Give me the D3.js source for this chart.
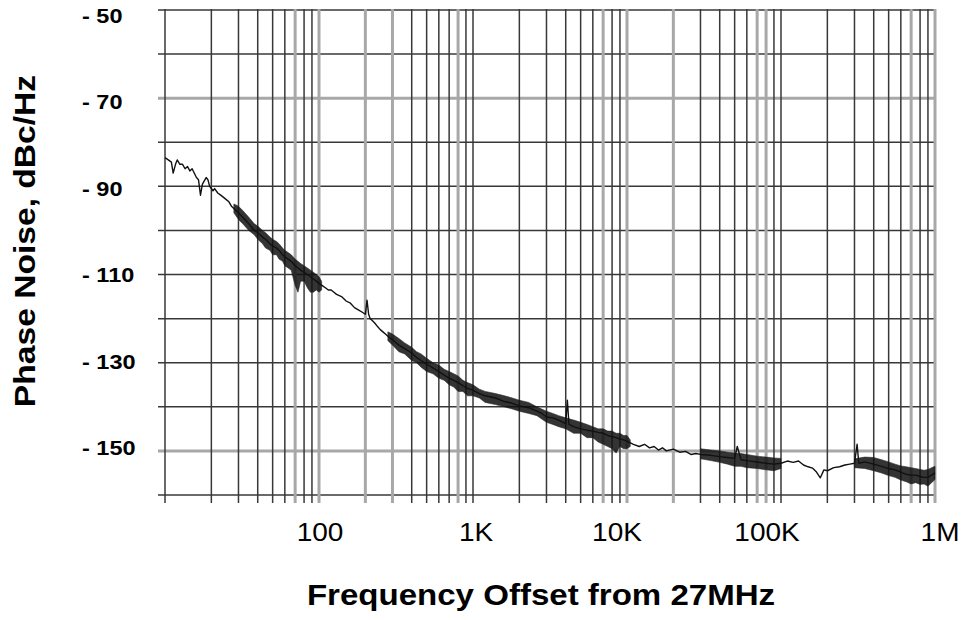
<!DOCTYPE html>
<html><head><meta charset="utf-8">
<script src="https://cdn.jsdelivr.net/npm/d3@7"></script>
<style>body{margin:0;background:#fff}svg{display:block}</style>
</head><body><svg id="c" width="962" height="620"></svg>
<script>
// ---------- data ----------
const xTickValues = [100, 1000, 10000, 100000, 1000000];
const xTickLabels = ["100", "1K", "10K", "100K", "1M"];
const yTickValues = [-50, -70, -90, -110, -130, -150];
const yTickLabels = ["- 50", "- 70", "- 90", "- 110", "- 130", "- 150"];
const yGridValues = [-50, -60, -70, -80, -90, -100, -110, -120, -130, -140, -150, -160];
const xTitle = "Frequency Offset from 27MHz";
const yTitle = "Phase Noise, dBc/Hz";

// measured trace (offset frequency in Hz, phase noise in dBc/Hz)
const traceFreq = [10,10.5,11,11.3,11.7,12,12.5,13,13.5,14,14.5,15,16,16.5,17,17.5,18.5,19,19.5,20.5,21,22,23,24,25,26,27,
  28,30,32,35,38,40,43,45,48,50,53,55,58,60,63,66,70,73,76,80,84,88,92,96,100,
  105,110,115,120,125,130,140,150,160,170,180,190,200,205,210,215,220,230,240,250,260,270,
  280,300,330,360,400,430,460,500,550,600,650,700,750,800,860,920,1000,1100,1200,1400,1600,1800,2000,2300,2600,2800,3000,
  3300,3600,4000,4100,4200,4500,5000,5500,6000,6500,7000,7500,8000,8500,9000,9500,10000,
  11000,12000,13000,14000,15000,16000,17000,18000,20000,22000,24000,26000,28000,
  30000,35000,40000,45000,50000,52000,55000,60000,70000,80000,90000,100000,
  110000,120000,130000,140000,150000,160000,170000,180000,190000,200000,220000,240000,260000,280000,
  300000,312000,320000,350000,400000,450000,500000,550000,600000,650000,700000,750000,800000,850000,900000,950000,1000000];
const traceDb = [-83.5,-84,-84.5,-87,-85,-84,-85,-85,-86,-85.5,-86.5,-86,-88,-88.5,-92,-89.5,-88,-88.5,-90,-91,-90.5,-91.5,-92,-92.5,-93,-93.5,-94.5,
  -95,-96,-97,-98.5,-100,-100.5,-101.5,-102,-103,-103.5,-104,-104.5,-105.5,-106,-106.5,-107,-108,-108.5,-109,-109.5,-110,-110.5,-111,-111.5,-112,
  -112.5,-113,-113.5,-113.5,-114,-114.5,-115,-116,-116.5,-117.5,-118,-118.5,-119,-115.8,-119,-120,-120.3,-121,-121.8,-122.5,-123,-123.5,
  -124,-124.8,-126,-126.8,-127.8,-128.8,-129.5,-130.3,-131.2,-132,-132.8,-133.5,-134,-134.5,-135.2,-135.8,-136.2,-137,-137.5,-138,-138.8,-139.2,-139.8,-140.2,-141,-141.5,-142.3,
  -142.5,-143,-143.8,-138.5,-144,-144.5,-145,-145.3,-145.5,-145.8,-146,-146.5,-146.8,-147,-147.3,-147.5,-147.8,
  -148.5,-149,-148.5,-149.3,-149,-149.8,-149.3,-150,-149.6,-150.3,-150.1,-150.8,-150.6,
  -150.8,-151,-151.3,-151.5,-151.7,-149,-152,-152.2,-152.5,-152.8,-153,-152.8,
  -152.3,-152.6,-152.3,-153.2,-153.6,-153.9,-154.8,-156.1,-154.3,-154.5,-153.8,-153.6,-153.2,-153,
  -152.8,-148.5,-152.8,-152.5,-153,-153.5,-154,-154.3,-154.8,-155.3,-155.5,-155.5,-155.8,-156,-156,-155.5,-155];

// dense-noise envelope of the trace (null = gap between segments)
const bandFreq = [28,30,32,35,38,40,43,45,48,50,53,55,58,60,63,66,70,73,76,80,84,88,92,96,100,104, null,
  280,300,330,360,400,430,460,500,550,600,650,700,750,800,860,920,1000,1100,1200,1400,1600,1800,2000,2300,2600,
  3000,3300,3600,4000,4500,5000,5500,6000,6500,7000,7500,8000,8500,9000,9500,10000,10500, null,
  30000,35000,40000,45000,50000,55000,60000,70000,80000,90000,100000, null,
  300000,350000,400000,450000,500000,550000,600000,650000,700000,750000,800000,850000,900000,950000,1000000];
const bandUpper = [-94,-94.5,-95.5,-97,-98.5,-99,-100,-100.5,-101.5,-102,-102.5,-103,-104,-104.5,-105,-105.5,-106.5,-107,-107.5,-108,-108.5,-109,-109.5,-110,-110.5,-111.5, null,
  -123,-123.5,-124.5,-125.5,-126.5,-127.5,-128,-129,-130,-130.5,-131.5,-132,-132.5,-133,-134,-134.5,-135,-136,-136.5,-137,-137.5,-138,-138.5,-139,-140,
  -141,-141.5,-142,-142.5,-143,-143.5,-144,-144.5,-145,-145,-145.5,-145.5,-146,-146,-146.5,-146.5,-147.5, null,
  -149.5,-149.8,-150,-150.3,-150.5,-150.6,-150.8,-151.2,-151.4,-151.6,-151.7, null,
  -151.8,-151.4,-151.5,-152,-152.5,-153,-153.4,-153.6,-153.8,-154,-154.2,-154.4,-154.2,-153.8,-153.5];
const bandLower = [-96,-97.5,-98.5,-100,-101,-102,-103,-104,-104.5,-105.5,-105.5,-106.5,-107,-108,-108.5,-109,-112.5,-114,-111.5,-111.5,-113,-114,-114,-113.5,-114,-113.5, null,
  -125,-126,-127.5,-128,-129.5,-130,-131,-132,-132.5,-133.5,-134,-135,-135.5,-136.5,-136.5,-137.5,-137.5,-138,-139,-139.5,-140,-140.5,-141,-141.5,-142,
  -143.5,-144,-144.5,-145,-146,-146,-147,-147,-148,-148.5,-149,-149.5,-150.5,-149,-149.5,-149.5,-149, null,
  -151.8,-152.2,-152.6,-153,-153.5,-153.5,-153.8,-154,-154.3,-154.5,-154, null,
  -153.8,-154,-154.5,-155,-155.6,-156,-156.6,-157,-157.5,-157.2,-157.6,-157.5,-158,-157.2,-156.5];

// grid lines drawn as lighter, wider strokes (as in the scanned original)
const lightGridX = [70, 100, 200, 300, 800, 7000, 10000, 20000, 70000, 80000, 700000, 1000000];
const lightGridY = [-70, -150];
const xLabelNudge = [1, 3, -10, -14, 5];

// ---------- chart ----------
const svg = d3.select("#c");
const x = d3.scaleLog().domain([10, 1e6]).range([165, 935]);
const y = d3.scaleLinear().domain([-50, -160]).range([10, 495]);
// the printed tick labels sit on a slightly compressed scale of their own
const yLabel = d3.scaleLinear().domain([-50, -150]).range([15.5, 447.5]);
const FONT = "'Liberation Sans', Arial, Helvetica, sans-serif";
const SX = 1.12;

const grid = svg.append("g");
grid.selectAll("line.h").data(yGridValues).join("line")
  .attr("x1", x(10) - 7).attr("x2", x(1e6))
  .attr("y1", d => y(d)).attr("y2", d => y(d))
  .attr("stroke", d => lightGridY.includes(d) ? "#a8a8a8" : "#383838")
  .attr("stroke-width", d => lightGridY.includes(d) ? 3 : 1.5);
const vTicks = x.ticks();
const isLight = v => lightGridX.some(l => Math.abs(l - v) / l < 1e-6);
grid.selectAll("line.v").data(vTicks).join("line")
  .attr("x1", d => x(d)).attr("x2", d => x(d))
  .attr("y1", y(-50) - 1).attr("y2", y(-160) + 8)
  .attr("stroke", d => isLight(d) ? "#a8a8a8" : "#383838")
  .attr("stroke-width", d => isLight(d) ? 3 : 1.5);

// noise band
const bandData = bandFreq.map((f, i) => ({f, hi: bandUpper[i], lo: bandLower[i]}));
svg.append("path").datum(bandData)
  .attr("d", d3.area().defined(d => d.f != null)
    .x(d => x(d.f)).y0(d => y(d.lo)).y1(d => y(d.hi)))
  .attr("fill", "#111").attr("fill-opacity", 0.85)
  .attr("stroke", "#222").attr("stroke-width", 0.8).attr("stroke-opacity", 0.7);

// trace
const traceData = traceFreq.map((f, i) => ({f, v: traceDb[i]}));
svg.append("path").datum(traceData)
  .attr("d", d3.line().x(d => x(d.f)).y(d => y(d.v)))
  .attr("fill", "none").attr("stroke", "#111").attr("stroke-width", 1.4)
  .attr("stroke-linejoin", "round");

// y tick labels
svg.append("g").selectAll("text").data(yTickValues).join("text")
  .attr("transform", d => `translate(82,${yLabel(d) + 7.5}) scale(${SX},1)`)
  .attr("font-family", FONT).attr("font-weight", "bold").attr("font-size", 21)
  .attr("fill", "#000")
  .text((d, i) => yTickLabels[i]);

// x tick labels
svg.append("g").selectAll("text").data(xTickValues).join("text")
  .attr("transform", (d, i) => `translate(${x(d) + xLabelNudge[i]},541) scale(${SX},1)`)
  .attr("text-anchor", "middle")
  .attr("font-family", FONT).attr("font-size", 25).attr("fill", "#000")
  .text((d, i) => xTickLabels[i]);

// axis titles
svg.append("text")
  .attr("transform", `translate(541,605) scale(1.14,1)`)
  .attr("text-anchor", "middle")
  .attr("font-family", FONT).attr("font-weight", "bold").attr("font-size", 29)
  .attr("fill", "#000").text(xTitle);
svg.append("text")
  .attr("transform", `translate(35,241) rotate(-90) scale(1.12,1)`)
  .attr("text-anchor", "middle")
  .attr("font-family", FONT).attr("font-weight", "bold").attr("font-size", 30)
  .attr("fill", "#000").text(yTitle);
</script></body></html>
